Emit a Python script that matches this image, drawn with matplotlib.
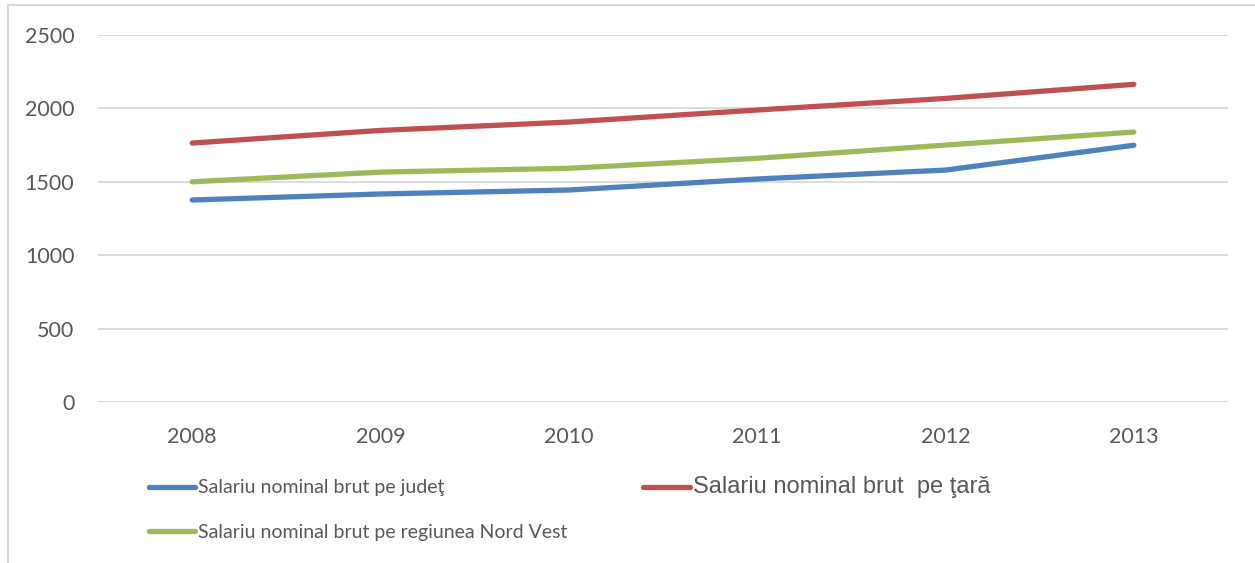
import matplotlib.pyplot as plt
from matplotlib.patches import Rectangle

# === data ===
years = ['2008', '2009', '2010', '2011', '2012', '2013']
judet = [1376, 1417, 1444, 1519, 1580, 1749]
tara = [1764, 1850, 1907, 1989, 2068, 2164]
nord_vest = [1500, 1566, 1592, 1660, 1750, 1839]
yticks = [0, 500, 1000, 1500, 2000, 2500]

blue = '#4f81bd'
red = '#c0504d'
green = '#9bbb59'

plt.rcParams['font.family'] = ['Lato', 'DejaVu Sans']

fig = plt.figure(figsize=(12.55, 5.63), dpi=100)
W, H = 1255, 563
# plot area in pixels: x 98..1228, y 35..402
ax = fig.add_axes([98 / W, 1 - 402 / H, (1228 - 98) / W, (402 - 35) / H])

x = range(len(years))
l1, = ax.plot(x, judet, color=blue, lw=3.8, solid_capstyle='round', solid_joinstyle='round', zorder=3)
l2, = ax.plot(x, tara, color=red, lw=3.8, solid_capstyle='round', solid_joinstyle='round', zorder=3)
l3, = ax.plot(x, nord_vest, color=green, lw=3.8, solid_capstyle='round', solid_joinstyle='round', zorder=3)

ax.set_xlim(-0.5, len(years) - 0.5)
ax.set_ylim(0, 2500)
ax.set_yticks(yticks)
ax.set_xticks(list(x))
ax.set_xticklabels(years)
ax.yaxis.grid(True, color='#d9d9d9', lw=1.3)
ax.set_axisbelow(True)
for s in ax.spines.values():
    s.set_visible(False)
ax.tick_params(length=0, labelsize=15.5, labelcolor='#595959')
ax.tick_params(axis='y', pad=17)
ax.tick_params(axis='x', pad=18)

# chart border
fig.add_artist(Rectangle((8 / W, -0.01), 1.2, 1 - 5 / H + 0.01, transform=fig.transFigure,
                         fill=False, ec='#d9d9d9', lw=1.5))

leg = fig.legend([l1, l3, l2],
                 ['Salariu nominal brut pe judeţ',
                  'Salariu nominal brut pe regiunea Nord Vest',
                  'Salariu nominal brut  pe ţară'],
                 ncol=2, loc='upper left', bbox_to_anchor=(131 / W, 1 - 459 / H),
                 frameon=False, fontsize=14, handlelength=2.4, handletextpad=0.15,
                 columnspacing=3.9, labelspacing=1.4, labelcolor='#595959')
leg.get_texts()[2].set_fontfamily(['Liberation Sans', 'DejaVu Sans'])
leg.get_texts()[2].set_fontsize(17)

fig.savefig('out.png', dpi=100)
